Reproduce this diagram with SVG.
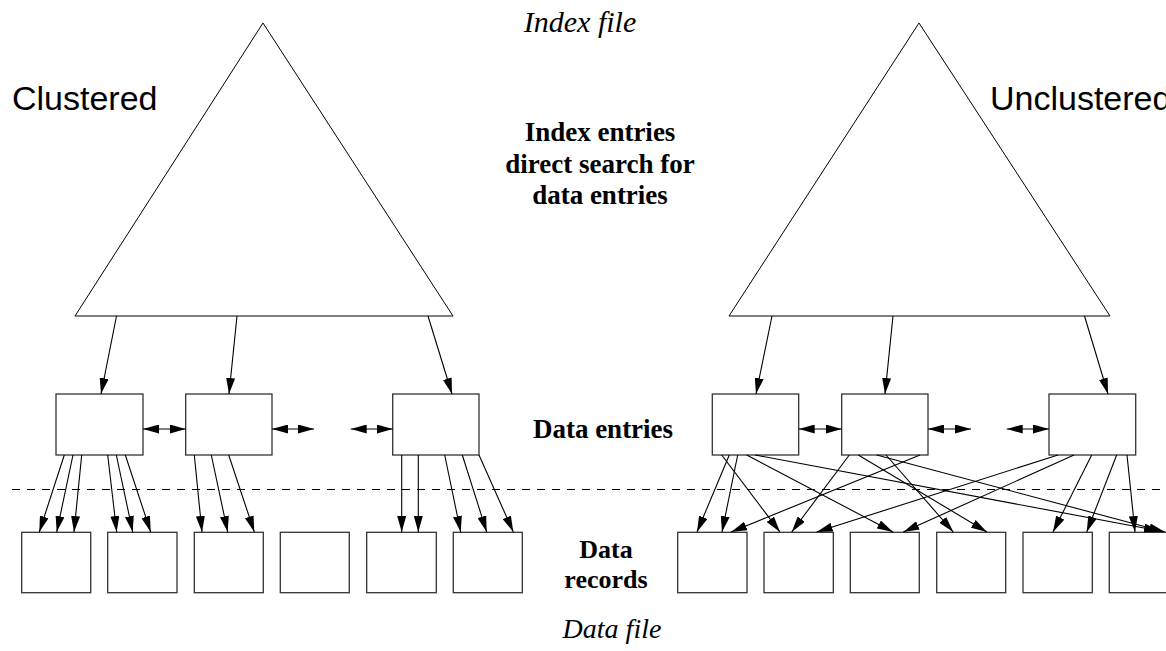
<svg xmlns="http://www.w3.org/2000/svg" width="1166" height="651" viewBox="0 0 1166 651">
<defs>
<style>
.tri{fill:#fff;stroke:#000;stroke-width:1}
.box{fill:#fff;stroke:#333;stroke-width:1.3}
.ln{stroke:#000;stroke-width:1.1;fill:none;marker-end:url(#ah)}
.dbl{stroke:#000;stroke-width:1.1;fill:none;marker-end:url(#ah);marker-start:url(#ah)}
.dash{stroke:#000;stroke-width:1;stroke-dasharray:8 7}
.sans{font-family:"Liberation Sans",Arial,sans-serif;font-size:34px;fill:#000}
.it{font-family:"Liberation Serif","Times New Roman",serif;font-style:italic;font-size:30px;fill:#000}
.bd{font-family:"Liberation Serif","Times New Roman",serif;font-weight:bold;font-size:27px;fill:#000;text-anchor:middle}
</style>
<marker id="ah" markerUnits="userSpaceOnUse" markerWidth="16" markerHeight="9" refX="16" refY="4.5" orient="auto-start-reverse">
<path d="M0,0 L16,4.5 L0,9 z" fill="#000"/>
</marker>
</defs>
<rect width="1166" height="651" fill="#fff"/>

<g id="labels">
<text class="it" x="580" y="32" text-anchor="middle">Index file</text>
<text class="sans" x="12" y="110">Clustered</text>
<text class="sans" x="990" y="110">Unclustered</text>
<text class="bd" x="600" y="141">Index entries</text>
<text class="bd" x="600" y="172.5">direct search for</text>
<text class="bd" x="600" y="204">data entries</text>
<text class="bd" x="603" y="438">Data entries</text>
<text class="bd" x="606" y="558" style="font-size:26px">Data</text>
<text class="bd" x="606" y="588" style="font-size:26px">records</text>
<text class="it" x="612" y="638" text-anchor="middle" style="font-size:28px">Data file</text>
</g>

<g id="tree-left"><polygon class="tri" points="263,23 453,316 75,316"/></g>
<g id="tree-right"><polygon class="tri" points="919,23 1110,316 729,316"/></g>

<g id="entries-left">
<rect class="box" x="56" y="394" width="87" height="61"/>
<rect class="box" x="185.7" y="394" width="86.3" height="61"/>
<rect class="box" x="392.7" y="394" width="86.3" height="61"/>
</g>
<g id="entries-right">
<rect class="box" x="712.3" y="394" width="86.4" height="61"/>
<rect class="box" x="841.7" y="394" width="86.3" height="61"/>
<rect class="box" x="1049" y="394" width="86.7" height="61"/>
</g>

<g id="records-left">
<rect class="box" x="21.7" y="532.3" width="69" height="60.4"/>
<rect class="box" x="107.7" y="532.3" width="69.3" height="60.4"/>
<rect class="box" x="194.3" y="532.3" width="69" height="60.4"/>
<rect class="box" x="280.3" y="532.3" width="69" height="60.4"/>
<rect class="box" x="366.7" y="532.3" width="69.6" height="60.4"/>
<rect class="box" x="453.3" y="532.3" width="69" height="60.4"/>
</g>
<g id="records-right">
<rect class="box" x="677.7" y="532.3" width="69.3" height="60.4"/>
<rect class="box" x="764" y="532.3" width="69.3" height="60.4"/>
<rect class="box" x="850.3" y="532.3" width="69" height="60.4"/>
<rect class="box" x="936.7" y="532.3" width="69" height="60.4"/>
<rect class="box" x="1023" y="532.3" width="69.3" height="60.4"/>
<rect class="box" x="1109.3" y="532.3" width="69.3" height="60.4"/>
</g>

<g id="connectors">
<line class="dash" x1="12" y1="489.5" x2="1166" y2="489.5"/>
<line class="ln" x1="116.5" y1="316" x2="101" y2="394"/>
<line class="ln" x1="237" y1="316" x2="229" y2="394"/>
<line class="ln" x1="428" y1="316" x2="452" y2="394"/>
<line class="ln" x1="772" y1="316" x2="756" y2="394"/>
<line class="ln" x1="893" y1="316" x2="885" y2="394"/>
<line class="ln" x1="1084.5" y1="316" x2="1108" y2="394"/>
<line class="dbl" x1="143" y1="429" x2="185.7" y2="429"/>
<line class="dbl" x1="272" y1="429" x2="314" y2="429"/>
<line class="dbl" x1="350.7" y1="429" x2="392.7" y2="429"/>
<line class="dbl" x1="798.7" y1="429" x2="841.7" y2="429"/>
<line class="dbl" x1="928" y1="429" x2="971" y2="429"/>
<line class="dbl" x1="1006.7" y1="429" x2="1049" y2="429"/>
<line class="ln" x1="64.3" y1="455" x2="39.3" y2="532"/>
<line class="ln" x1="73" y1="455" x2="56.7" y2="532"/>
<line class="ln" x1="81.7" y1="455" x2="74" y2="532"/>
<line class="ln" x1="107.7" y1="455" x2="116.7" y2="532"/>
<line class="ln" x1="116.3" y1="455" x2="132.7" y2="532"/>
<line class="ln" x1="125.3" y1="455" x2="150.7" y2="532"/>
<line class="ln" x1="194.3" y1="455" x2="202" y2="532"/>
<line class="ln" x1="211.3" y1="455" x2="227.7" y2="532"/>
<line class="ln" x1="228.7" y1="455" x2="254.3" y2="532"/>
<line class="ln" x1="401.7" y1="455" x2="401.7" y2="532"/>
<line class="ln" x1="418.3" y1="455" x2="418.3" y2="532"/>
<line class="ln" x1="444.7" y1="455" x2="460.7" y2="532"/>
<line class="ln" x1="462.3" y1="455" x2="486.7" y2="532"/>
<line class="ln" x1="479" y1="455" x2="513.3" y2="532"/>
<line class="ln" x1="729.3" y1="455" x2="697" y2="532"/>
<line class="ln" x1="737.7" y1="455" x2="722" y2="532"/>
<line class="ln" x1="721.7" y1="455" x2="780" y2="532"/>
<line class="ln" x1="746.7" y1="455" x2="893" y2="532"/>
<line class="ln" x1="755" y1="455" x2="1160" y2="531"/>
<line class="ln" x1="849.3" y1="455" x2="791.7" y2="532"/>
<line class="ln" x1="858.3" y1="455" x2="987" y2="532"/>
<line class="ln" x1="876.7" y1="455" x2="1165" y2="532"/>
<line class="ln" x1="886" y1="455" x2="953.3" y2="532"/>
<line class="ln" x1="920" y1="455" x2="731" y2="532"/>
<line class="ln" x1="1058" y1="455" x2="816.7" y2="532"/>
<line class="ln" x1="1074" y1="455" x2="903.3" y2="532"/>
<line class="ln" x1="1091.7" y1="455" x2="1053" y2="532"/>
<line class="ln" x1="1116.7" y1="455" x2="1086.7" y2="532"/>
<line class="ln" x1="1127" y1="455" x2="1135" y2="532"/>
</g>
</svg>
